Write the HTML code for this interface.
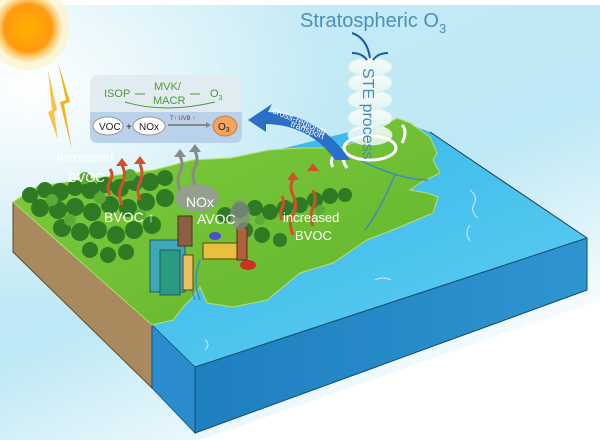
<!DOCTYPE html>
<html><head><meta charset="utf-8"><style>
html,body{margin:0;padding:0;background:#fff;}
svg{display:block;font-family:"Liberation Sans",sans-serif;}
</style></head><body>
<svg width="600" height="440" viewBox="0 0 600 440" xmlns="http://www.w3.org/2000/svg">
<defs>
<linearGradient id="sky" x1="0" y1="0" x2="0.6" y2="1">
<stop offset="0" stop-color="#c9ecf6"/><stop offset="0.6" stop-color="#bde8f5"/><stop offset="1" stop-color="#ffffff"/>
</linearGradient>
<radialGradient id="skyw" cx="0.05" cy="0.2" r="0.5">
<stop offset="0" stop-color="#ffffff"/><stop offset="1" stop-color="#ffffff" stop-opacity="0"/>
</radialGradient>
<radialGradient id="sun" cx="0.5" cy="0.5" r="0.5">
<stop offset="0" stop-color="#ffb000"/><stop offset="0.7" stop-color="#ff9a10"/><stop offset="1" stop-color="#ffd070" stop-opacity="0.3"/>
</radialGradient>
<linearGradient id="sea" x1="0" y1="0" x2="1" y2="1">
<stop offset="0" stop-color="#2fb0e6"/><stop offset="1" stop-color="#5fd0f2"/>
</linearGradient>
<linearGradient id="front" x1="0" y1="0" x2="1" y2="0">
<stop offset="0" stop-color="#1f7fc0"/><stop offset="1" stop-color="#2f95d0"/>
</linearGradient>
<linearGradient id="land" x1="0" y1="0" x2="1" y2="1">
<stop offset="0" stop-color="#80cc3c"/><stop offset="1" stop-color="#62b42e"/>
</linearGradient>
<linearGradient id="tor" x1="0" y1="0" x2="0" y2="1">
<stop offset="0" stop-color="#ffffff" stop-opacity="0.85"/><stop offset="1" stop-color="#e8f8f0" stop-opacity="0.85"/>
</linearGradient>
</defs>
<rect width="600" height="440" fill="#fff"/>
<path d="M0 5 H600 V300 L200 440 H0 Z" fill="url(#sky)"/>
<rect width="600" height="440" fill="url(#skyw)"/>
<!-- sun -->
<circle cx="28" cy="28" r="42" fill="#fff2c0" opacity="0.6"/>
<circle cx="28" cy="28" r="34" fill="url(#sun)"/>
<path d="M58 62 L66 100 L60 102 L72 150 L64 104 L70 102 Z" fill="#f7b11a"/>
<path d="M48 70 L52 110 L48 112 L58 140 L54 112 L57 110 Z" fill="#f7b11a" opacity="0.8"/>
<!-- sea top -->
<path d="M13 202 L154 172 L269 152 L397 120 L430 132 L587 238 L195 367 L152 325 Z" fill="url(#sea)"/>
<path d="M430 132 L587 238" stroke="#1a3a50" stroke-width="1"/>
<!-- brown side -->
<path d="M13 202 L152 325 L152 388 L13 252 Z" fill="#a98a5e" stroke="#5a4a30" stroke-width="1"/>
<!-- blue front -->
<path d="M195 367 L587 238 L587 290 L195 433 Z" fill="url(#front)" stroke="#124a70" stroke-width="1"/>
<path d="M152 325 L195 367 L195 433 L152 388 Z" fill="#2a8ccc" stroke="#124a70" stroke-width="0.8"/>
<!-- land -->
<path d="M13 202 L152 325 L173 320 L185 305 L193 297 L200 287 L207 303 L233 307 L267 300 L300 273 L333 263 L367 240 L400 227 L433 213 L438 197 L427 193 L410 190 L420 183 L440 173 L433 160 L437 153 L430 137 L410 123 L397 118 L380 128 L360 140 L340 148 L300 148 L269 150 L231 158 L192 160 L154 170 L96 178 L38 186 Z" fill="url(#land)" stroke="#b8e070" stroke-width="1"/>
<!-- rivers -->
<path d="M175 240 Q185 270 195 300 M200 260 Q192 280 200 300 M360 160 Q400 180 428 180 M395 175 Q380 210 365 230" stroke="#3a8ac8" stroke-width="1.5" fill="none"/>
<g stroke="#cdeefa" stroke-width="1" fill="none"><path d="M470 190 q8 6 4 14 q-4 8 4 14"/><path d="M470 225 q-6 8 0 16"/><path d="M375 280 q8 -4 16 0"/><path d="M205 340 q6 4 0 10"/></g>
<!-- trees -->
<g fill="#2f7a24">
<circle cx="30" cy="195" r="8"/><circle cx="45" cy="190" r="8"/><circle cx="60" cy="192" r="9"/><circle cx="75" cy="188" r="8"/><circle cx="90" cy="190" r="9"/><circle cx="105" cy="185" r="8"/><circle cx="120" cy="188" r="9"/><circle cx="135" cy="183" r="8"/><circle cx="150" cy="182" r="9"/><circle cx="165" cy="178" r="8"/>
<circle cx="40" cy="208" r="9"/><circle cx="58" cy="210" r="9"/><circle cx="75" cy="207" r="9"/><circle cx="92" cy="212" r="9"/><circle cx="110" cy="205" r="9"/><circle cx="128" cy="208" r="9"/><circle cx="146" cy="202" r="9"/><circle cx="165" cy="198" r="9"/>
<circle cx="62" cy="228" r="9"/><circle cx="80" cy="232" r="9"/><circle cx="98" cy="230" r="9"/><circle cx="116" cy="235" r="9"/><circle cx="134" cy="230" r="9"/><circle cx="152" cy="225" r="9"/>
<circle cx="90" cy="250" r="8"/><circle cx="108" cy="255" r="8"/><circle cx="126" cy="252" r="8"/>
<circle cx="225" cy="215" r="8"/><circle cx="240" cy="210" r="8"/><circle cx="255" cy="208" r="8"/><circle cx="270" cy="212" r="8"/><circle cx="285" cy="208" r="8"/><circle cx="300" cy="205" r="8"/><circle cx="315" cy="200" r="8"/><circle cx="330" cy="196" r="8"/><circle cx="345" cy="195" r="7"/>
<circle cx="245" cy="230" r="8"/><circle cx="262" cy="235" r="8"/><circle cx="280" cy="240" r="7"/>
</g>
<g fill="#5aaa36">
<circle cx="52" cy="200" r="6"/><circle cx="100" cy="198" r="6"/><circle cx="140" cy="215" r="6"/><circle cx="70" cy="220" r="6"/><circle cx="260" cy="220" r="5"/><circle cx="320" cy="210" r="5"/><circle cx="85" cy="178" r="6"/><circle cx="130" cy="175" r="6"/>
</g>
<!-- city -->
<rect x="150" y="240" width="35" height="52" fill="#3fa8b8" stroke="#1f5a68"/>
<rect x="160" y="250" width="20" height="45" fill="#2a9a80" stroke="#1f5a68"/>
<rect x="183" y="255" width="10" height="35" fill="#e8c060" stroke="#604020"/>
<rect x="203" y="243" width="35" height="16" fill="#e8c040" stroke="#604020"/>
<rect x="237" y="228" width="10" height="32" fill="#b0603a" stroke="#503020"/>
<rect x="178" y="216" width="14" height="30" fill="#8a6040" stroke="#503020"/>
<ellipse cx="215" cy="236" rx="6" ry="4" fill="#5050c0"/>
<ellipse cx="248" cy="265" rx="8" ry="5" fill="#d03020"/>
<!-- smoke -->
<ellipse cx="197" cy="198" rx="22" ry="14" fill="#9a9a9a" opacity="0.85"/>
<ellipse cx="240" cy="215" rx="10" ry="15" fill="#8a8a8a" opacity="0.7"/>
<!-- red arrows -->
<g stroke="#d2502a" stroke-width="3" fill="none">
<path d="M122 205 q-5 -12 0 -20 q5 -10 0 -20"/><path d="M140 200 q-4 -10 0 -18 q4 -8 0 -18"/><path d="M110 195 q-4 -8 0 -14 q4 -6 0 -12"/>
<path d="M293 235 q-5 -12 0 -20 q5 -10 0 -20 q-4 -8 0 -16"/><path d="M313 226 q-4 -10 0 -18 q4 -8 0 -18"/><path d="M282 220 q-3 -6 0 -12 q3 -6 0 -12"/>
</g>
<g fill="#d2502a">
<path d="M116 166 l6 -8 l6 8z"/><path d="M134 164 l6 -8 l6 8z"/><path d="M287 180 l6 -8 l6 8z"/><path d="M307 171 l6 -8 l6 8z"/>
</g>
<g stroke="#8a8a8a" stroke-width="3" fill="none"><path d="M180 190 q-4 -10 0 -18 q4 -8 0 -16"/><path d="M195 185 q-4 -10 0 -18 q4 -8 0 -16"/></g>
<path d="M174 157 l6 -8 l6 8z M189 152 l6 -8 l6 8z" fill="#8a8a8a"/>
<!-- labels -->
<g fill="#fff" font-size="13">
<text x="57" y="162">increased</text><text x="68" y="182">BVOC</text>
<text x="104" y="222" font-size="14">BVOC ↑</text>
<text x="186" y="207" font-size="14">NOx</text><text x="197" y="224" font-size="14">AVOC</text>
<text x="283" y="222">increased</text><text x="295" y="240">BVOC</text>
</g>
<!-- tornado -->
<g fill="url(#tor)" stroke="#d8f0e8" stroke-width="1">
<ellipse cx="370" cy="135" rx="22" ry="10"/><ellipse cx="370" cy="118" rx="22" ry="10"/><ellipse cx="370" cy="100" rx="22" ry="10"/><ellipse cx="370" cy="83" rx="22" ry="10"/><ellipse cx="370" cy="67" rx="22" ry="9"/>
</g>
<g stroke="#fff" stroke-width="3" fill="none">
<ellipse cx="370" cy="148" rx="26" ry="12"/>
<path d="M345 150 q-5 8 2 18"/><path d="M402 125 q6 6 0 18"/><path d="M335 155 q-6 5 -2 12"/>
</g>
<text transform="translate(363,68) rotate(90)" font-size="16" fill="#4a8ab8">STE process</text>
<text x="300" y="27" font-size="20" fill="#4a90b8">Stratospheric O<tspan font-size="13" dy="6">3</tspan></text>
<g stroke="#1a5aa8" stroke-width="2" fill="none"><path d="M352 33 q15 5 18 25"/><path d="M352 53 q10 0 15 7"/><path d="M388 53 q-10 0 -15 7"/></g>
<!-- cross-regional arrow -->
<path d="M350 160 Q320 115 268 112 L272 104 L248 120 L266 132 L266 124 Q310 125 335 160 Z" fill="#2a70c8"/>
<text transform="translate(272,113) rotate(22)" font-size="9" fill="#fff">cross-regional</text>
<text transform="translate(290,126) rotate(22)" font-size="9" fill="#fff">transport</text>
<!-- box -->
<rect x="90" y="75" width="152" height="68" rx="8" fill="#e2ebef" opacity="0.95"/>
<path d="M90 112 H242 V135 Q242 143 234 143 H98 Q90 143 90 135 Z" fill="#b9d2ea"/>
<g fill="#4c9a3c" font-size="11"><text x="104" y="97">ISOP</text><text x="154" y="90">MVK/</text><text x="153" y="104">MACR</text><text x="210" y="97">O<tspan font-size="7" dy="3">3</tspan></text></g>
<g stroke="#4c9a3c" stroke-width="1" fill="none"><path d="M135 94 h10"/><path d="M190 94 h10"/><path d="M125 102 q40 12 90 0"/></g>
<g fill="#fff" stroke="#888" stroke-width="0.8"><ellipse cx="108" cy="126" rx="15" ry="9"/><ellipse cx="149" cy="126" rx="16" ry="9"/></g>
<ellipse cx="225" cy="126" rx="12" ry="10" fill="#f4a560" stroke="#c07030" stroke-width="0.8"/>
<g font-size="10" fill="#222"><text x="99" y="130">VOC</text><text x="139" y="130">NOx</text><text x="126" y="130">+</text><text x="218" y="130">O<tspan font-size="7" dy="2">3</tspan></text></g>
<text x="170" y="120" font-size="6" fill="#c02020">T↑ UVB ↑</text>
<path d="M168 125 h40" stroke="#888" stroke-width="2"/><path d="M206 122 l5 3 l-5 3z" fill="#888"/>
</svg>
</body></html>
